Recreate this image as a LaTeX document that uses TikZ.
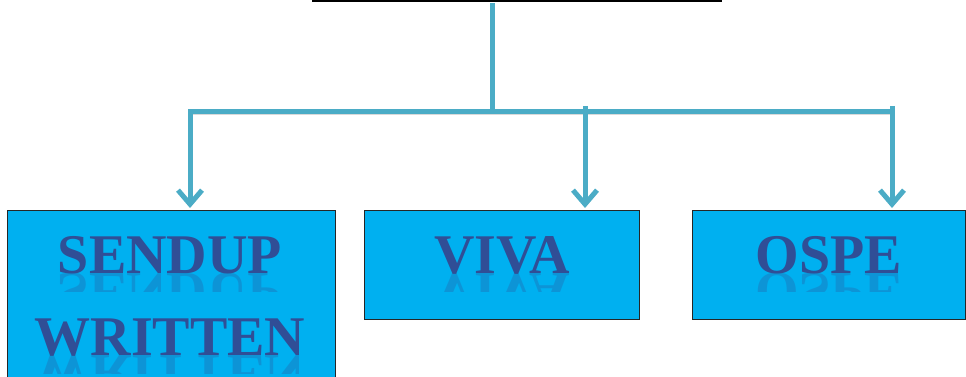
\documentclass[tikz,border=0pt]{standalone}
\usepackage{fontspec}
\setmainfont{Liberation Serif}
\usetikzlibrary{arrows.meta}
\definecolor{linkteal}{RGB}{75,172,198}
\definecolor{boxblue}{RGB}{0,176,240}
\definecolor{labelblue}{RGB}{48,78,150}
\tikzset{
  exambox/.style={draw=black!85,thick,fill=boxblue,anchor=north west,inner sep=0pt},
  label text/.style={text=labelblue,font=\bfseries\fontsize{56}{60}\selectfont,anchor=base,inner sep=0pt},
  link/.style={draw=linkteal,line width=5pt,
    preaction={draw=black,opacity=0.15,transform canvas={shift={(1pt,-2pt)}}}},
  drop/.style={link,-{Straight Barb[length=14pt,width=24pt,line width=5pt]}}
}
\begin{document}
\begin{tikzpicture}[x=1pt,y=-1pt]
\useasboundingbox (0,0) rectangle (966,377);

% The boxes
\node[exambox,minimum width=328pt,minimum height=175pt] (sendup) at (7,210) {};
\node[exambox,minimum width=275pt,minimum height=109pt] (viva) at (364,210) {};
\node[exambox,minimum width=273pt,minimum height=109pt] (ospe) at (692,210) {};

% The labels
\node[label text] (sendupA) at (170,273) {SENDUP};
\node[label text] (sendupB) at (170,355) {WRITTEN};
\node[label text] (vivaA) at (502,273) {VIVA};
\node[label text] (ospeA) at (829,273) {OSPE};

% The reflections
\foreach \txt/\xx/\yy in {SENDUP/170/273,WRITTEN/170/355,VIVA/502/273,OSPE/829/273}
{
  \begin{scope}
    \clip (\xx-160,\yy) rectangle (\xx+160,\yy+18);
    \begin{scope}[shift={(\xx,\yy)},yscale=-1]
      \node[label text,opacity=0.28,transform shape] at (0,0) {\txt};
    \end{scope}
  \end{scope}
}

% The top edge and the tree
\coordinate (topL) at (312,1);
\coordinate (topR) at (722,1);
\draw[black,line width=1.5pt] (topL) -- (topR);
\coordinate (stem) at (492,3);
\coordinate (barL) at (188,112);
\coordinate (barR) at (894,112);
\coordinate (hub) at (492,112);
\coordinate (d1) at (190,112);
\coordinate (d2) at (585,106);
\coordinate (d3) at (892,106);

\draw[link] (stem) -- (hub);
\draw[link] (barL) -- (barR);
\draw[drop] (d1) -- ([yshift=2pt]d1 |- sendup.north);
\draw[drop] (d2) -- ([yshift=2pt]d2 |- viva.north);
\draw[drop] (d3) -- ([yshift=2pt]d3 |- ospe.north);

\end{tikzpicture}
\end{document}
